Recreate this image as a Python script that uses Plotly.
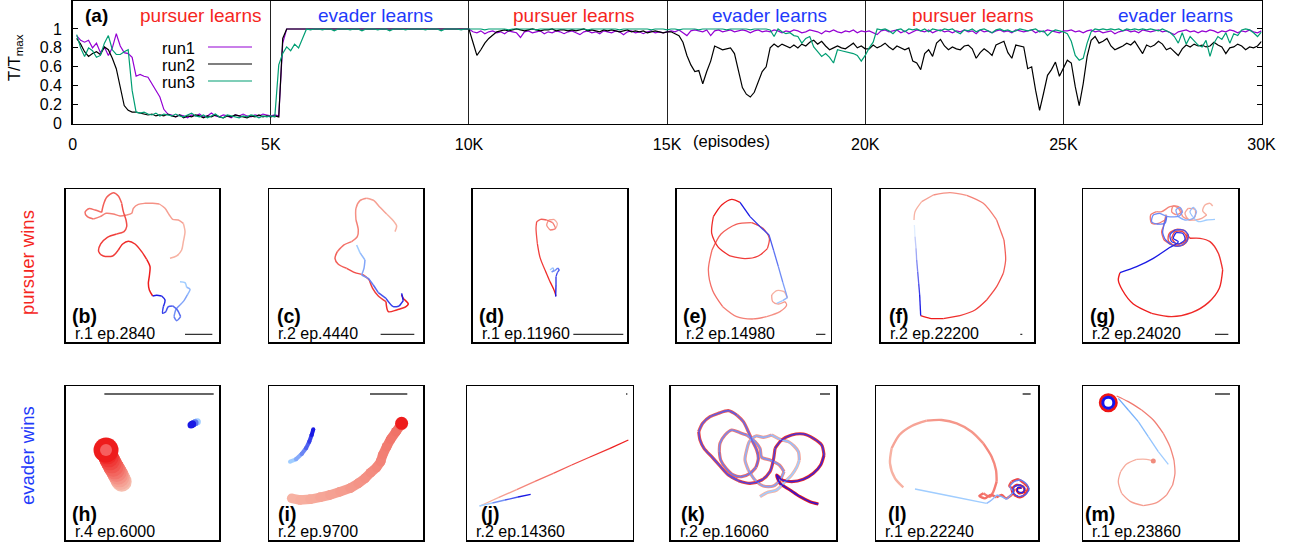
import plotly.graph_objects as go

W, H = 1309, 546

# ---------------- data: panel (a) ----------------
EPISODES = list(range(100, 30001, 100))
RUN1 = [
    0.93,0.88,0.86,0.88,0.80, 0.85,0.75,0.81,0.72,0.80, 0.95,0.82,0.75,0.74,0.70, 0.50,0.52,0.50,0.49,0.42, 0.34,0.28,0.15,0.10,0.09,
    0.07,0.09,0.08,0.06,0.09, 0.08,0.10,0.07,0.08,0.11, 0.08,0.07,0.09,0.08,0.06, 0.09,0.08,0.10,0.08,0.07, 0.09,0.08,0.10,0.09,0.08,
    0.09,0.08,0.85,1,1, 1,1,1,1,1, 1,1,1,1,1, 1,1,1,1,1, 1,1,1,1,1,
    1,1,1,1,1, 1,1,1,1,1, 1,1,1,1,1, 1,1,1,1,1, 1,1,1,1,1,
    0.97,0.96,0.98,0.95,0.97, 0.98,0.96,0.97,0.95,0.98, 0.97,0.96,0.91,0.97,0.98, 0.96,0.97,0.98,0.95,0.97, 0.96,0.98,0.97,0.95,0.97,
    0.98,0.96,0.94,0.97,0.98, 0.96,0.97,0.95,0.98,0.97, 0.96,0.98,0.97,0.94,0.97, 0.98,0.96,0.97,0.95,0.97, 0.98,0.96,0.97,0.96,0.97,
    0.98,0.97,0.99,0.96,0.93, 0.98,0.99,0.98,0.97,0.99, 0.93,0.98,0.99,0.97,0.98, 0.99,0.97,0.98,0.99,0.98, 0.96,0.98,0.99,0.97,0.98,
    0.97,0.99,0.98,0.96,0.98, 0.97,0.99,0.98,0.96,0.97, 0.99,0.98,0.97,0.95,0.98, 0.97,0.99,0.97,0.96,0.98, 0.97,0.99,0.96,0.98,0.97,
    0.98,0.96,0.94,0.98,0.99, 0.97,0.98,0.99,0.96,0.98, 0.95,0.97,0.99,0.98,0.97, 0.99,0.96,0.98,0.99,0.97, 0.98,0.96,0.98,0.97,0.99,
    0.97,0.98,0.95,0.99,0.97, 0.98,0.96,0.98,0.99,0.97, 0.98,0.96,0.99,0.98,0.97, 0.98,0.99,0.96,0.98,0.97, 0.99,0.98,0.97,0.96,0.98,
    0.98,0.99,0.97,0.98,0.96, 0.98,0.99,0.97,0.98,0.96, 0.97,0.98,0.95,0.97,0.98, 0.99,0.97,0.98,0.96,0.99, 0.98,0.97,0.98,0.99,0.97,
    0.98,0.96,0.94,0.97,0.98, 0.99,0.97,0.98,0.96,0.98, 0.97,0.99,0.98,0.96,0.98, 0.97,0.99,0.98,0.96,0.98, 0.97,0.99,0.97,0.96,0.98,
]
RUN2 = [
    0.90,0.84,0.76,0.71,0.74, 0.76,0.73,0.81,0.78,0.69, 0.58,0.38,0.19,0.14,0.12, 0.12,0.11,0.10,0.09,0.10, 0.08,0.09,0.08,0.10,0.08,
    0.07,0.09,0.06,0.08,0.07, 0.09,0.08,0.06,0.08,0.07, 0.09,0.07,0.06,0.08,0.07, 0.09,0.08,0.07,0.06,0.08, 0.07,0.09,0.07,0.08,0.07,
    0.08,0.07,0.90,1,1, 1,1,1,1,1, 1,1,1,1,1, 1,1,1,1,1, 1,1,1,1,1,
    1,1,1,1,1, 1,1,1,1,1, 1,1,1,1,1, 1,1,1,1,1, 1,1,1,1,1,
    0.86,0.72,0.78,0.85,0.90, 0.94,0.97,0.98,0.99,0.98, 0.99,1,0.99,0.98,0.99, 1,0.99,0.98,0.99,0.99, 1,0.98,0.99,0.99,0.98,
    0.99,0.98,0.99,1,0.98, 0.99,0.98,0.97,0.99,0.98, 0.99,0.98,0.97,0.98,0.99, 0.97,0.98,0.97,0.98,0.96, 0.97,0.98,0.97,0.96,0.97,
    0.97,0.95,0.93,0.86,0.72, 0.62,0.55,0.56,0.42,0.55, 0.66,0.82,0.80,0.78,0.79, 0.80,0.74,0.55,0.38,0.31, 0.28,0.33,0.45,0.55,0.60,
    0.80,0.84,0.81,0.84,0.82, 0.80,0.83,0.80,0.84,0.82, 0.86,0.88,0.84,0.87,0.82, 0.78,0.80,0.82,0.80,0.79, 0.82,0.85,0.80,0.82,0.79,
    0.79,0.83,0.80,0.82,0.85, 0.81,0.78,0.82,0.80,0.78, 0.80,0.66,0.64,0.57,0.74, 0.78,0.71,0.85,0.89,0.82, 0.78,0.81,0.79,0.78,0.82,
    0.83,0.79,0.69,0.75,0.79, 0.76,0.72,0.83,0.85,0.87, 0.75,0.69,0.83,0.82,0.81, 0.58,0.60,0.35,0.14,0.32, 0.51,0.57,0.65,0.50,0.58,
    0.67,0.64,0.39,0.19,0.42, 0.71,0.88,0.92,0.85,0.87, 0.90,0.82,0.78,0.80,0.82, 0.85,0.83,0.87,0.80,0.74, 0.83,0.81,0.83,0.87,0.84,
    0.78,0.80,0.76,0.72,0.79, 0.83,0.81,0.84,0.82,0.83, 0.81,0.82,0.86,0.83,0.81, 0.74,0.80,0.81,0.84,0.82, 0.78,0.81,0.80,0.82,0.87,
]
RUN3 = [
    0.94,0.80,0.71,0.80,0.77, 0.70,0.72,0.85,0.93,0.78, 0.73,0.73,0.76,0.78,0.35, 0.12,0.11,0.12,0.10,0.09, 0.11,0.08,0.10,0.09,0.08,
    0.10,0.08,0.07,0.09,0.11, 0.08,0.07,0.09,0.06,0.08, 0.10,0.07,0.06,0.09,0.08, 0.07,0.06,0.08,0.07,0.09, 0.08,0.06,0.08,0.07,0.08,
    0.07,0.62,0.74,0.81,0.77, 0.84,0.80,0.90,1,0.99, 1,1,0.99,1,1, 0.98,1,1,1,0.99, 1,1,0.98,1,1,
    1,0.99,1,1,0.98, 1,1,1,0.99,1, 1,1,1,0.99,1, 1,1,0.98,1,1, 1,1,0.99,1,1,
    1,1,1,0.99,1, 1,1,1,1,0.99, 1,1,1,1,1, 1,0.99,1,1,1, 1,1,1,1,1,
    1,1,1,1,0.99, 1,1,1,1,1, 1,1,0.99,1,1, 1,1,1,1,1, 0.99,1,1,1,0.99,
    1,1,0.99,1,1, 1,1,0.99,1,1, 1,1,1,1,0.99, 1,1,1,1,1, 0.99,1,1,1,1,
    0.99,0.92,1.0,0.97,0.95, 0.96,0.93,0.92,0.85,0.90, 0.92,0.81,0.76,0.71,0.74, 0.70,0.64,0.78,0.77,0.76, 0.75,0.74,0.72,0.66,0.72,
    0.80,0.86,1.0,0.99,1, 0.98,0.95,0.99,1,0.97, 1,0.99,1,0.98,1, 0.97,1,0.99,0.98,1, 0.99,1,0.97,0.95,0.99,
    0.98,1,0.97,0.99,1, 0.98,0.96,0.99,1,0.98, 0.99,0.97,0.98,1,0.99, 0.98,0.99,1,0.97,0.98, 0.93,0.97,0.99,0.98,0.97,
    0.95,0.87,0.72,0.67,0.69, 0.85,0.97,1,0.99,1, 0.99,1,0.99,1,0.98, 1,0.99,1,0.99,1, 0.99,1,0.99,0.98,1,
    0.98,0.96,0.92,0.85,0.96, 0.84,0.92,0.87,0.83,0.81, 0.88,0.71,0.85,0.92,0.89, 0.96,0.85,0.95,0.93,0.99, 1.0,0.99,0.96,0.92,0.97,
]
RUN_NAMES = ["run1", "run2", "run3"]
RUN_COLORS = ["#9400d3", "#000000", "#009e73"]
X_TICKS = [0, 5000, 10000, 15000, 20000, 25000, 30000]
X_TICK_LABELS = ["0", "5K", "10K", "15K", "20K", "25K", "30K"]
Y_TICKS = [0, 0.2, 0.4, 0.6, 0.8, 1]
Y_TICK_LABELS = ["0", "0.2", "0.4", "0.6", "0.8", "1"]
PHASES = ["pursuer learns", "evader learns", "pursuer learns", "evader learns", "pursuer learns", "evader learns"]
PHASE_X = [3215, 7634, 12634, 17576, 22707, 27836]

# ---------------- data: trajectory panels (spatial units) ----------------
B_PURSUER = [(510,265),(530,258),(545,240),(550,215),(555,185),(550,160),(535,150),(518,148),(508,135),(495,115),(478,102),(458,100),(435,100),(415,103),(400,115),(395,130),(380,135),(360,138),(340,132),(318,130),(300,140),(280,147),(262,140),(255,127),(266,116),(285,120),(305,127),(310,105),(320,82),(340,68),(355,78),(365,100),(370,125),(378,150),(380,170),(372,185),(350,192),(322,202),(302,222),(296,245),(310,258),(338,258),(355,240),(368,222),(385,214),(405,222),(425,245),(440,268),(450,290),(448,318),(445,340),(448,360),(458,378)]
B_EVADER = [(540,335),(555,338),(560,352),(570,358),(562,375),(552,392),(540,405),(528,418),(522,440),(530,452),(542,440),(532,420),(518,408),(505,410),(498,425),(488,430),(490,410),(495,390),(485,378),(470,376),(458,378)]
C_PURSUER = [(1185,185),(1190,168),(1178,150),(1160,132),(1140,112),(1122,92),(1100,85),(1080,92),(1068,115),(1068,150),(1075,180),(1072,200),(1055,215),(1032,225),(1012,245),(1005,265),(1015,283),(1040,295),(1065,308),(1090,315),(1108,330),(1118,355),(1135,378),(1158,395),(1165,425),(1190,420),(1215,412),(1225,402),(1210,385),(1205,375)]
C_EVADER = [(1070,225),(1080,248),(1095,270),(1092,295),(1085,315),(1105,325),(1120,345),(1135,368),(1158,385),(1180,410),(1198,408),(1210,392),(1205,370)]
D_PURSUER = [(378,175),(382,160),(372,148),(356,150),(350,165),(360,180),(376,176),(368,158),(350,150),(332,148),(320,155),(318,175),(322,220),(330,262),(345,300),(360,335),(372,360),(378,378)]
D_EVADER = [(360,300),(368,293),(372,300),(365,306),(375,302),(383,294),(388,300),(382,308),(378,320),(378,345),(377,380)]
E_PURSUER = [(1072,385),(1062,365),(1040,362),(1025,375),(1028,395),(1045,402),(1065,395),(1070,405),(1050,425),(1010,440),(970,447),(920,440),(878,410),(848,362),(835,300),(846,240),(873,192),(918,163),(965,158),(1000,176),(1018,205),(1012,236),(985,258),(945,266),(900,258),(865,232),(845,190),(850,140),(875,105),(905,88),(930,97)]
E_EVADER = [(1040,400),(1058,392),(1072,383),(1058,336),(1045,290),(1031,242),(1017,195),(990,170),(960,140),(930,97)]
F_PURSUER = [(162,150),(165,125),(185,95),(220,75),(270,68),(320,76),(370,100),(410,150),(432,210),(437,270),(430,310),(410,350),(380,390),(345,420),(300,437),(250,446),(210,445),(182,437)]
F_EVADER = [(163,165),(165,200),(168,235),(170,270),(173,305),(176,340),(179,375),(182,437)]
G_PURSUER = [(1058,108),(1050,100),(1035,105),(1028,122),(1040,135),(1025,145),(1005,150),(985,148),(975,130),(985,115),(1005,118),(1005,140),(990,150),(968,140),(955,115),(940,108),(935,125),(950,135),(965,125),(955,110),(930,110),(905,125),(890,125),(872,135),(875,160),(895,160),(915,150),(918,135),(910,170),(905,185),(912,210),(930,222),(955,228),(978,218),(985,200),(975,182),(950,178),(928,190),(925,212),(945,228),(970,225),(982,205),(968,185),(945,185),(935,205),(950,222),(975,215),(980,195),(990,205),(1020,205),(1050,215),(1075,250),(1088,300),(1078,355),(1045,398),(995,428),(935,440),(875,430),(820,402),(787,360),(775,330),(780,308)]
G_EVADER = [(1065,148),(1040,150),(1015,155),(998,140),(990,125),(1000,112),(1010,125),(1000,145),(975,150),(955,140),(948,120),(960,112),(968,125),(958,138),(925,140),(900,130),(880,135),(875,155),(890,162),(915,160),(920,140),(912,165),(908,188),(915,208),(935,225),(960,228),(980,215),(985,195),(970,180),(945,180),(930,195),(935,215),(958,222),(975,208),(968,190),(948,188),(940,205),(955,215),(930,232),(880,265),(830,290),(780,308)]
H_PURSUER = [(365,305),(362,300),(358,292),(354,284),(350,276),(345,268),(340,260),(335,250),(330,241),(326,232),(322,223),(320,216),(318,210)]
H_EVADER = [(592,125),(585,128),(578,132),(573,135)]
I_PURSUER = [(875,355),(900,360),(930,358),(960,352),(990,345),(1020,335),(1050,325),(1075,310),(1095,295),(1112,278),(1130,262),(1142,245),(1148,225),(1160,200),(1172,178),(1188,155),(1200,138),(1205,130)]
I_EVADER = [(870,245),(888,238),(905,222),(918,205),(928,185),(935,165),(940,148)]
J_PURSUER = [(150,378),(205,353),(260,329),(315,304),(370,280),(425,255),(480,231),(540,205),(595,180)]
J_EVADER = [(148,378),(187,369),(225,360),(264,351),(302,343)]
K_PATH = [(990,350),(1010,338),(1040,330),(1065,305),(1085,285),(1100,262),(1108,240),(1105,215),(1092,198),(1075,185),(1050,178),(1025,165),(1000,172),(978,168),(958,185),(950,210),(945,240),(955,270),(975,300),(1000,318),(1030,318),(1050,300),(1062,275),(1048,255),(1020,240),(995,232),(990,205),(975,185),(950,165),(930,158),(905,150),(885,165),(870,190),(868,215),(872,240),(888,265),(910,285),(935,290),(960,280),(978,262),(985,235),(980,210),(968,185),(955,155),(940,125),(920,105),(895,92),(865,100),(840,110),(818,130),(806,155),(810,180),(822,205),(845,230),(870,258),(895,285),(925,302),(960,310),(995,300),(1020,275),(1030,240),(1035,205),(1055,180),(1085,165),(1120,162),(1150,175),(1175,195),(1182,225),(1172,255),(1150,280),(1120,298),(1085,305),(1055,300),(1040,285),(1050,310),(1080,330),(1110,350),(1140,365),(1165,372)]
L_PURSUER = [(130,322),(105,295),(90,250),(95,205),(118,165),(155,138),(200,122),(245,120),(290,130),(335,155),(370,190),(395,230),(408,270),(410,305),(400,335),(390,350),(370,340),(358,348),(375,355),(392,345),(410,352),(425,345),(438,355),(455,345),(462,330),(448,318),(455,305),(475,298),(490,308),(505,322),(498,340),(480,352),(462,345),(455,328),(470,315),(490,320),(495,335),(478,340),(470,328),(485,322)]
L_EVADER = [(165,327),(270,348),(380,370),(395,360),(410,345),(425,350),(440,358),(452,345),(462,335),(450,320),(462,305),(482,300),(500,312),(508,328),(495,345),(475,350),(460,338),(462,320),(480,315),(495,325),(488,338),(472,335),(474,322),(485,325)]
M_PURSUER = [(880,243),(860,238),(830,238),(800,252),(782,275),(775,305),(785,340),(812,365),(850,377),(890,368),(920,345),(938,315),(945,280),(942,240),(930,200),(910,160),(880,120),(845,90),(805,65),(770,48)]
M_EVADER = [(925,253),(895,215),(865,170),(835,125),(805,90),(775,55)]
M_RING = (745, 68)

PANEL_LETTERS = ["(b)","(c)","(d)","(e)","(f)","(g)","(h)","(i)","(j)","(k)","(l)","(m)"]
PANEL_RUNS = ["r.1 ep.2840","r.2 ep.4440","r.1 ep.11960","r.2 ep.14980","r.2 ep.22200","r.2 ep.24020",
              "r.4 ep.6000","r.2 ep.9700","r.2 ep.14360","r.2 ep.16060","r.1 ep.22240","r.1 ep.23860"]
SCALE_BARS = [(555,637,493),(1142,1243,493),(430,580,493),(1158,1186,493),(481,487,493),(1065,1105,493),
              (313,641,42),(1110,1222,42),(588,592,42),(1170,1200,42),(488,512,42),(1065,1110,42)]

# ---------------- layout geometry (pixels) ----------------
PANEL_BOX = [(65.7,219,189,342.3),(269.3,423.3,189,342.3),(472.7,627.3,189,342.3),(676.7,830.7,189,342.3),
             (880.7,1034.3,189,342.3),(1083.3,1238,189,342.3),
             (65.7,219,386,540),(269.3,423.3,386,540),(467.3,632.7,386,540),(670.7,836,386,540),
             (876,1038.3,386,540),(1083.3,1238.3,386,540)]
PANEL_FRAME = [(197,657,57,517),(808,1270,57,517),(128,592,57,517),(740,1202,57,517),(62,523,57,517),(670,1134,57,517),
               (197,657,18,480),(808,1270,18,480),(112,608,18,480),(722,1218,18,480),(48,535,18,480),(670,1135,18,480)]
LETTER_DX = [4.3,6,4,4,6,5,4.3,6.7,12,8.6,10,-0.6]

FONT = "Liberation Sans, Arial, Helvetica, sans-serif"
RED_LIGHT, RED_DARK = (247,178,163), (238,28,28)
BLUE_LIGHT, BLUE_DARK = (160,205,255), (25,25,228)
TXT_RED, TXT_BLUE = "rgb(245,38,30)", "rgb(30,58,250)"


def px(x):
    return x / W


def py(y):
    return 1 - y / H


def lerp(c0, c1, t):
    return "rgb(%d,%d,%d)" % tuple(round(a + (b - a) * t) for a, b in zip(c0, c1))


fig = go.Figure()

for name, vals, col in zip(RUN_NAMES, [RUN1, RUN2, RUN3], RUN_COLORS):
    fig.add_trace(go.Scatter(x=EPISODES, y=vals, mode="lines", name=name,
                             line=dict(color=col, width=1.2), xaxis="x", yaxis="y",
                             showlegend=False, hoverinfo="skip"))


def add_grad(pts, c0, c1, ax, width, nbins=10, caps=False, smooth=True):
    n = len(pts)
    nb = max(1, min(nbins, n - 1))
    bounds = [round(i * (n - 1) / nb) for i in range(nb + 1)]
    for k in range(nb):
        a, b = bounds[k], bounds[k + 1]
        seg = pts[a:b + 1]
        t = k / (nb - 1) if nb > 1 else 1.0
        col = lerp(c0, c1, t)
        fig.add_trace(go.Scatter(
            x=[p[0] for p in seg], y=[p[1] for p in seg],
            mode="lines+markers" if caps else "lines",
            line=dict(color=col, width=width, shape="spline" if smooth else "linear", smoothing=0.8),
            marker=dict(size=width, color=col, line=dict(width=0)),
            xaxis="x%d" % ax, yaxis="y%d" % ax, showlegend=False, hoverinfo="skip"))


def add_dot(pt, color, size, ax, symbol="circle", lw=0):
    fig.add_trace(go.Scatter(x=[pt[0]], y=[pt[1]], mode="markers",
                             marker=dict(size=size, color=color, symbol=symbol,
                                         line=dict(width=lw, color=color)),
                             xaxis="x%d" % ax, yaxis="y%d" % ax, showlegend=False, hoverinfo="skip"))


add_grad(B_PURSUER, RED_LIGHT, RED_DARK, 2, 1.5)
add_grad(B_EVADER, BLUE_LIGHT, BLUE_DARK, 2, 1.5)
add_grad(C_PURSUER, RED_LIGHT, RED_DARK, 3, 1.5)
add_grad(C_EVADER, BLUE_LIGHT, BLUE_DARK, 3, 1.5)
add_grad(D_PURSUER, RED_LIGHT, RED_DARK, 4, 1.3)
add_grad(D_EVADER, BLUE_LIGHT, BLUE_DARK, 4, 1.3)
add_grad(E_PURSUER, RED_LIGHT, RED_DARK, 5, 1.3)
add_grad(E_EVADER, BLUE_LIGHT, BLUE_DARK, 5, 1.3, smooth=False)
add_grad(F_PURSUER, RED_LIGHT, RED_DARK, 6, 1.3)
add_grad(F_EVADER, (225,238,255), BLUE_DARK, 6, 1.3, smooth=False)
add_grad(G_PURSUER, RED_LIGHT, RED_DARK, 7, 1.4, nbins=14)
add_grad(G_EVADER, BLUE_LIGHT, BLUE_DARK, 7, 1.3, nbins=14)
add_grad(H_PURSUER, (246,190,175), RED_DARK, 8, 20, nbins=12, caps=True, smooth=False)
add_dot(H_PURSUER[-1], "rgb(238,28,28)", 25, 8)
add_dot(H_PURSUER[-1], "rgb(246,95,95)", 12, 8)
add_grad(H_EVADER, BLUE_LIGHT, BLUE_DARK, 8, 7, caps=True, smooth=False)
add_grad(I_PURSUER, RED_LIGHT, (240,110,100), 9, 9.5, nbins=17, caps=True, smooth=False)
add_dot(I_PURSUER[-1], "rgb(238,28,28)", 13, 9)
add_grad(I_EVADER, BLUE_LIGHT, BLUE_DARK, 9, 4, caps=True, smooth=False)
add_grad(J_PURSUER, RED_LIGHT, RED_DARK, 10, 1.3, smooth=False)
add_grad(J_EVADER, BLUE_LIGHT, BLUE_DARK, 10, 1.3, smooth=False)
add_grad(K_PATH, RED_LIGHT, RED_DARK, 11, 3.2, nbins=14)
add_grad(K_PATH, BLUE_LIGHT, (60,20,200), 11, 1.6, nbins=14)
add_grad(L_PURSUER, RED_LIGHT, RED_DARK, 12, 2.4, nbins=12)
add_grad(L_EVADER, BLUE_LIGHT, BLUE_DARK, 12, 1.4, nbins=12)
add_grad(M_PURSUER, RED_LIGHT, (240,120,110), 13, 1.3)
add_grad(M_EVADER, BLUE_LIGHT, (110,170,250), 13, 1.3, smooth=False)
add_dot(M_PURSUER[0], "rgb(240,140,125)", 5, 13)
add_dot(M_RING, "rgb(238,20,20)", 16, 13, symbol="circle-open", lw=3)
add_dot(M_RING, "rgb(20,20,235)", 11, 13, symbol="circle-open", lw=3)

axis_line = dict(showline=True, linecolor="black", linewidth=1.5, mirror=True)
layout = dict(
    width=W, height=H, margin=dict(l=0, r=0, t=0, b=0, autoexpand=False),
    paper_bgcolor="white", plot_bgcolor="white",
    font=dict(family=FONT, color="black", size=16),
    showlegend=False,
    xaxis=dict(domain=[px(72.7), px(1261.5)], range=[0, 30000], tickvals=X_TICKS, ticktext=X_TICK_LABELS,
               showgrid=True, gridcolor="#222", gridwidth=1, zeroline=False, ticks="",
               tickfont=dict(size=16), ticklabelstandoff=6, anchor="y", automargin=False, **axis_line),
    yaxis=dict(domain=[py(123.5), py(1)], range=[0, 1.296], tickvals=Y_TICKS, ticktext=Y_TICK_LABELS,
               showgrid=False, zeroline=False, ticks="inside", ticklen=5, tickcolor="black",
               tickfont=dict(size=16), ticklabelstandoff=6, anchor="x", automargin=False,
               showline=True, linecolor="black", linewidth=1.5, mirror="ticks"),
)
shapes = []
annotations = []
for i, (box, frame) in enumerate(zip(PANEL_BOX, PANEL_FRAME)):
    k = i + 2
    l, r, t, b = box
    x0, x1, y0, y1 = frame
    layout["xaxis%d" % k] = dict(domain=[px(l), px(r)], range=[x0, x1], showticklabels=False, automargin=False,
                                 ticks="", showgrid=False, zeroline=False, anchor="y%d" % k, **axis_line)
    layout["yaxis%d" % k] = dict(domain=[py(b), py(t)], range=[y1, y0], showticklabels=False, automargin=False,
                                 ticks="", showgrid=False, zeroline=False, anchor="x%d" % k, **axis_line)
    sx0, sx1, sy = SCALE_BARS[i]
    shapes.append(dict(type="line", xref="x%d" % k, yref="y%d" % k, x0=sx0, x1=sx1, y0=sy, y1=sy,
                       line=dict(color="#333", width=1.3)))
    annotations.append(dict(text="<b>%s</b>" % PANEL_LETTERS[i], xref="paper", yref="paper",
                            x=px(l + LETTER_DX[i]), y=py(b - 26.5), xanchor="left", yanchor="middle",
                            showarrow=False, font=dict(size=19.5, color="black")))
    annotations.append(dict(text=PANEL_RUNS[i], xref="paper", yref="paper",
                            x=px(l + 7), y=py(b - 9), xanchor="left", yanchor="middle",
                            showarrow=False, font=dict(size=16, color="black")))

for txt, xe in zip(PHASES, PHASE_X):
    annotations.append(dict(text=txt, xref="x", yref="paper", x=xe, y=py(15), xanchor="center",
                            yanchor="middle", showarrow=False,
                            font=dict(size=19, color=TXT_RED if txt.startswith("pursuer") else TXT_BLUE)))
annotations.append(dict(text="<b>(a)</b>", xref="paper", yref="paper", x=px(83), y=py(15),
                        xanchor="left", yanchor="middle", showarrow=False, font=dict(size=19)))
annotations.append(dict(text="(episodes)", xref="paper", yref="paper", x=px(731), y=py(141),
                        xanchor="center", yanchor="middle", showarrow=False, font=dict(size=16.5)))
annotations.append(dict(text="T/T<sub>max</sub>", xref="paper", yref="paper", x=px(15), y=py(58),
                        xanchor="center", yanchor="middle", textangle=-90, showarrow=False,
                        font=dict(size=16.5)))
for j, (name, col) in enumerate(zip(RUN_NAMES, RUN_COLORS)):
    yy = 48 + j * 17
    annotations.append(dict(text=name, xref="paper", yref="paper", x=px(197), y=py(yy),
                            xanchor="right", yanchor="middle", showarrow=False, font=dict(size=16.5)))
    shapes.append(dict(type="line", xref="paper", yref="paper", x0=px(208), x1=px(252),
                       y0=py(yy - 1), y1=py(yy - 1), line=dict(color=col, width=1.2)))
annotations.append(dict(text="pursuer wins", xref="paper", yref="paper", x=px(27), y=py(263),
                        xanchor="center", yanchor="middle", textangle=-90, showarrow=False,
                        font=dict(size=18.5, color=TXT_RED)))
annotations.append(dict(text="evader wins", xref="paper", yref="paper", x=px(27), y=py(456),
                        xanchor="center", yanchor="middle", textangle=-90, showarrow=False,
                        font=dict(size=18.5, color=TXT_BLUE)))

layout["shapes"] = shapes
layout["annotations"] = annotations
fig.update_layout(**layout)
fig.write_html("out.html", config={"displayModeBar": False, "staticPlot": True},
               post_script="document.body.style.margin='0';document.body.style.padding='0';"
                           "document.body.style.overflow='hidden';")
